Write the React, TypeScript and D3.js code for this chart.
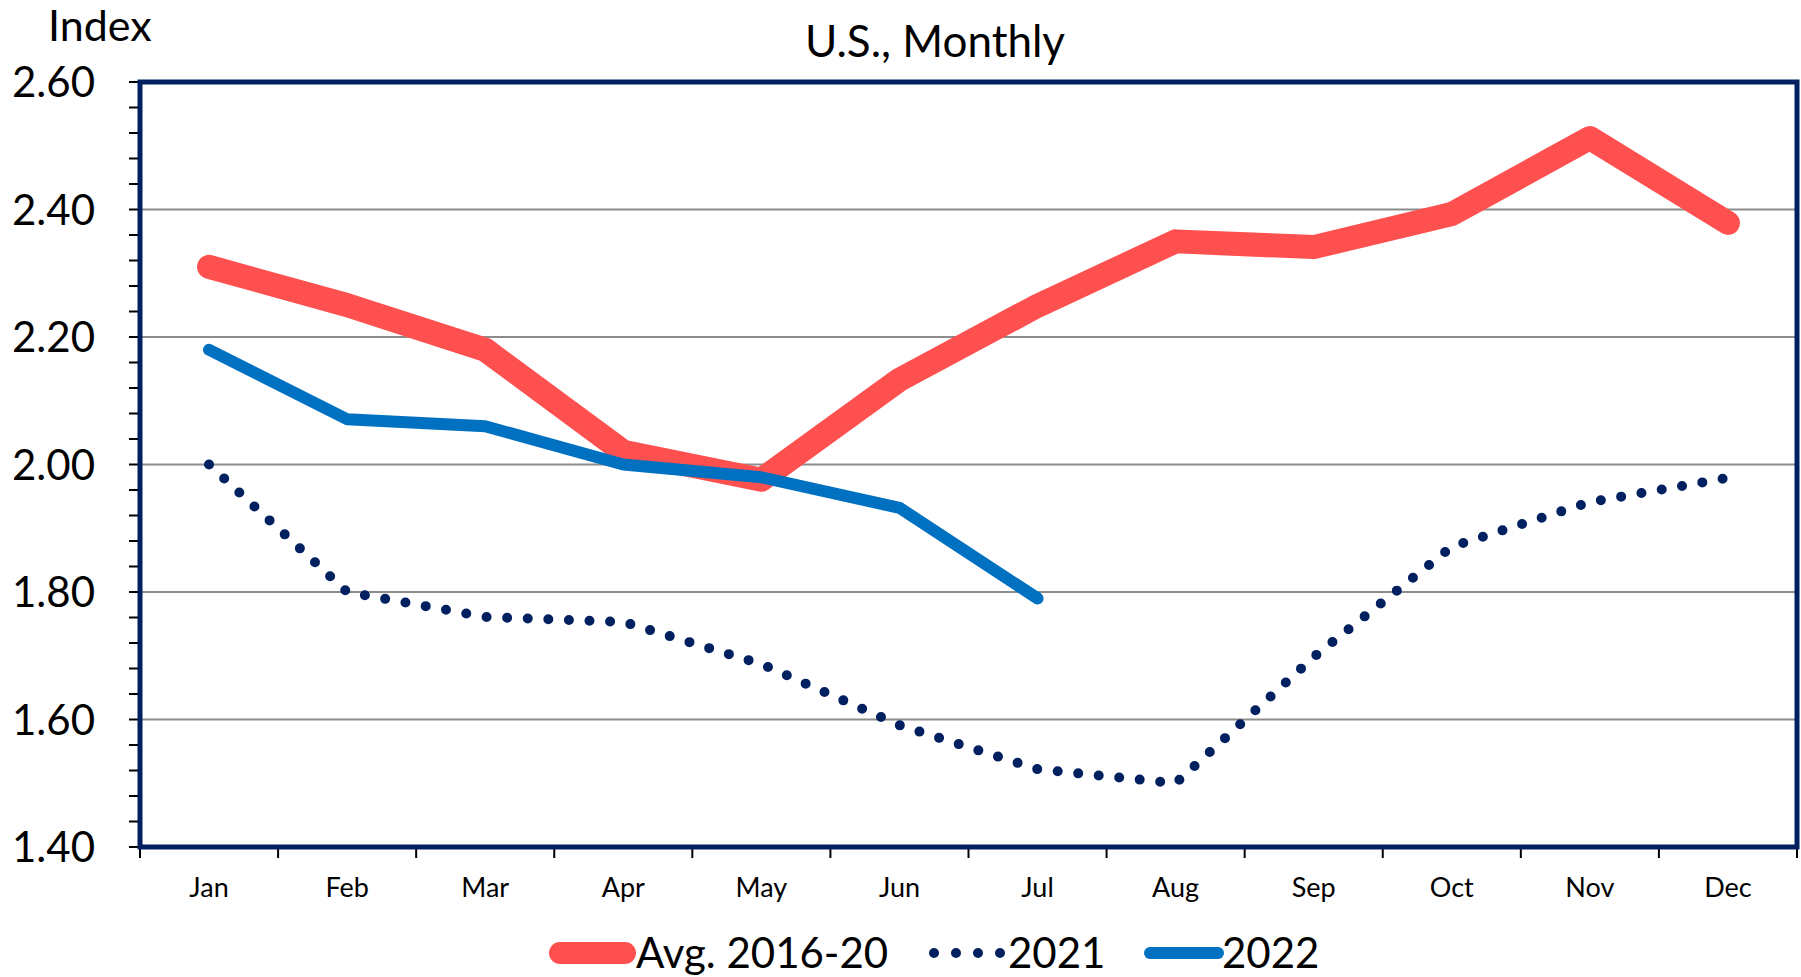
import * as d3 from "d3";
import { useEffect, useRef } from "react";

const months = ["Jan", "Feb", "Mar", "Apr", "May", "Jun", "Jul", "Aug", "Sep", "Oct", "Nov", "Dec"];
const avg1620 = [2.31, 2.25, 2.18, 2.02, 1.976, 2.133, 2.249, 2.35, 2.341, 2.393, 2.512, 2.379];
const y2021 = [2.0, 1.8, 1.761, 1.753, 1.687, 1.591, 1.522, 1.5, 1.698, 1.871, 1.941, 1.979];
const y2022 = [2.18, 2.071, 2.06, 2.0, 1.98, 1.932, 1.79];
const yTicks = [1.4, 1.6, 1.8, 2.0, 2.2, 2.4, 2.6];

export default function App() {
    const svgRef = useRef(null)
    const svgWidth = 1801
    const svgHeight = 977
    const left = 140, right = 1797, top = 82, bottom = 847
    const font = "Lato, 'Open Sans', sans-serif"

    useEffect(() => {
        const svg = d3.select(svgRef.current)
        svg.selectAll("*").remove()

        const xScale = d3.scaleBand(months, [left, right])
        const xc = (i: number) => xScale(months[i])! + xScale.bandwidth() / 2
        const yScale = d3.scaleLinear([1.4, 2.6], [bottom, top])

        // gridlines
        svg.append("g")
            .selectAll("line")
            .data(yTicks.slice(1, -1))
            .join("line")
            .attr("x1", left).attr("x2", right)
            .attr("y1", d => yScale(d)).attr("y2", d => yScale(d))
            .attr("stroke", "#8c8c8c").attr("stroke-width", 2)

        // y axis with minor ticks
        const minor = d3.range(0, 31).map(i => 1.4 + i * 0.04)
        svg.append("g")
            .selectAll("line")
            .data(minor)
            .join("line")
            .attr("x1", left - 11).attr("x2", left)
            .attr("y1", d => yScale(d)).attr("y2", d => yScale(d))
            .attr("stroke", "#000").attr("stroke-width", 2)

        svg.append("g")
            .selectAll("text")
            .data(yTicks)
            .join("text")
            .attr("x", 95)
            .attr("y", d => yScale(d) + 15)
            .attr("text-anchor", "end")
            .attr("font-family", font)
            .attr("font-size", 42)
            .attr("fill", "#000")
            .text(d => d.toFixed(2))

        // x ticks at band edges
        const edges = months.map(m => xScale(m)!).concat([right])
        svg.append("g")
            .selectAll("line")
            .data(edges)
            .join("line")
            .attr("x1", d => d).attr("x2", d => d)
            .attr("y1", bottom).attr("y2", bottom + 11)
            .attr("stroke", "#000").attr("stroke-width", 2)

        svg.append("g")
            .selectAll("text")
            .data(months)
            .join("text")
            .attr("x", (d, i) => xc(i))
            .attr("y", 897)
            .attr("text-anchor", "middle")
            .attr("font-family", font)
            .attr("font-size", 27)
            .attr("fill", "#000")
            .text(d => d)

        // plot frame
        svg.append("rect")
            .attr("x", left).attr("y", top)
            .attr("width", right - left).attr("height", bottom - top)
            .attr("fill", "none")
            .attr("stroke", "#002060").attr("stroke-width", 5)

        const line = d3.line<number>()
            .x((d, i) => xc(i))
            .y(d => yScale(d))

        svg.append("path")
            .attr("d", line(y2021))
            .attr("fill", "none")
            .attr("stroke", "#002060")
            .attr("stroke-width", 10)
            .attr("stroke-linecap", "round")
            .attr("stroke-dasharray", "0 20.6")

        svg.append("path")
            .attr("d", line(avg1620))
            .attr("fill", "none")
            .attr("stroke", "#FF5050")
            .attr("stroke-width", 24)
            .attr("stroke-linecap", "round")
            .attr("stroke-linejoin", "round")

        svg.append("path")
            .attr("d", line(y2022))
            .attr("fill", "none")
            .attr("stroke", "#0070C0")
            .attr("stroke-width", 12)
            .attr("stroke-linecap", "round")
            .attr("stroke-linejoin", "round")

        // titles
        svg.append("text")
            .attr("x", 48).attr("y", 41)
            .attr("font-family", font).attr("font-size", 43)
            .text("Index")
        svg.append("text")
            .attr("x", 935).attr("y", 57)
            .attr("text-anchor", "middle")
            .attr("font-family", font).attr("font-size", 44)
            .text("U.S., Monthly")

        // legend
        const legend = svg.append("g").attr("font-family", font).attr("font-size", 42)
        legend.append("line")
            .attr("x1", 560).attr("x2", 625).attr("y1", 953).attr("y2", 953)
            .attr("stroke", "#FF5050").attr("stroke-width", 22).attr("stroke-linecap", "round")
        legend.append("text").attr("x", 636).attr("y", 968).text("Avg. 2016-20")
        legend.append("line")
            .attr("x1", 934).attr("x2", 1004).attr("y1", 953).attr("y2", 953)
            .attr("stroke", "#002060").attr("stroke-width", 10).attr("stroke-linecap", "round")
            .attr("stroke-dasharray", "0 22")
        legend.append("text").attr("x", 1008).attr("y", 968).text("2021")
        legend.append("line")
            .attr("x1", 1150).attr("x2", 1218).attr("y1", 953).attr("y2", 953)
            .attr("stroke", "#0070C0").attr("stroke-width", 12).attr("stroke-linecap", "round")
        legend.append("text").attr("x", 1222).attr("y", 968).text("2022")
    }, [])

    return <svg ref={svgRef} width={svgWidth} height={svgHeight} viewBox={`0 0 ${svgWidth} ${svgHeight}`}
        style={{ position: "absolute", left: 0, top: 0, background: "#fff" }} xmlns="http://www.w3.org/2000/svg" />
}
